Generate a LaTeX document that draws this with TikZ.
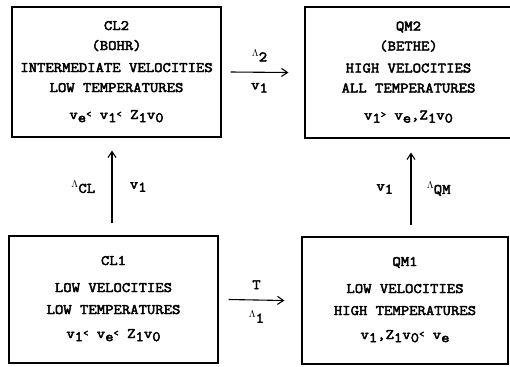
\documentclass[tikz,border=0pt]{standalone}
\usepackage{fontspec}
\newfontfamily\typer[FakeStretch=1.12, FakeBold=3]{Latin Modern Mono}
\usetikzlibrary{arrows.meta,positioning}
\newcommand{\lo}[1]{\raisebox{-0.5ex}{#1}}
\newcommand{\smlt}{\raisebox{0.35ex}{\fontsize{9bp}{9bp}\selectfont<}}
\newcommand{\smgt}{\raisebox{0.35ex}{\fontsize{9bp}{9bp}\selectfont>}}
\newcommand{\Lm}{\raisebox{0.3ex}{\fontsize{10bp}{10bp}\selectfont$\Lambda$}}

\begin{document}
\begin{tikzpicture}[x=1bp, y=-1bp, >={Straight Barb[length=6bp,width=8bp]},
  regime/.style={draw, line width=1.1bp, inner sep=0pt, align=center,
    minimum width=209bp, minimum height=130bp},
  link/.style={->, line width=1.1bp},
  every node/.style={font=\fontsize{14.5bp}{19bp}\selectfont\typer}]
  \useasboundingbox (0,0) rectangle (510,366);
  % the four regimes
  \node[regime] (cl2) at (116.5,72) {CL2\\[1bp] (BOHR)\\[3bp] INTERMEDIATE VELOCITIES\\[1bp] LOW TEMPERATURES\\[8bp]
    v\lo{e}\smlt\ v\lo{1}\smlt\ Z\lo{1}v\lo{0}\rule[-4bp]{0pt}{0pt}};
  \node[regime, minimum width=207bp, minimum height=131bp] (qm2) at (408.5,72.5) {QM2\\[1bp] (BETHE)\\[3bp] HIGH VELOCITIES\\[1bp] ALL TEMPERATURES\\[8bp]
    v\lo{1}\smgt\ v\lo{e},Z\lo{1}v\lo{0}\rule[-4bp]{0pt}{0pt}};
  \node[regime, minimum height=127bp] (cl1) at (113.5,299.5) {CL1\\[8bp] LOW VELOCITIES\\[3bp] LOW TEMPERATURES\\[5bp]
    v\lo{1}\smlt\ v\lo{e}\smlt\ Z\lo{1}v\lo{0}\rule[-5bp]{0pt}{0pt}};
  \node[regime, minimum width=206bp, minimum height=127bp] (qm1) at (405,300.5) {QM1\\[8bp] LOW VELOCITIES\\[3bp] HIGH TEMPERATURES\\[5bp]
    v\lo{1},Z\lo{1}v\lo{0}\smlt\ v\lo{e}\rule[-5bp]{0pt}{0pt}};
  % transitions
  \draw[link] ([xshift=9bp]cl2.east) -- ([xshift=-16bp]qm2.west)
    node[midway, above=7bp] {\Lm\lo{2}} node[midway, below=7bp] {v\lo{1}};
  \draw[link] ([xshift=10bp]cl1.east) -- ([xshift=-17bp]qm1.west)
    node[midway, above=7bp] {T} node[midway, below=7bp] {\Lm\lo{1}};
  \draw[link] ([xshift=-1.5bp,yshift=12bp]cl1.north) -- ([xshift=-1.5bp,yshift=-13bp]cl1.north |- cl2.south)
    node[midway, left=13bp] {\Lm\lo{CL}} node[midway, right=14bp] {v\lo{1}};
  \draw[link] ([xshift=6bp,yshift=11bp]qm1.north) -- ([xshift=6bp,yshift=-14bp]qm1.north |- qm2.south)
    node[midway, left=14bp] {v\lo{1}} node[midway, right=12bp] {\Lm\lo{QM}};
\end{tikzpicture}
\end{document}
